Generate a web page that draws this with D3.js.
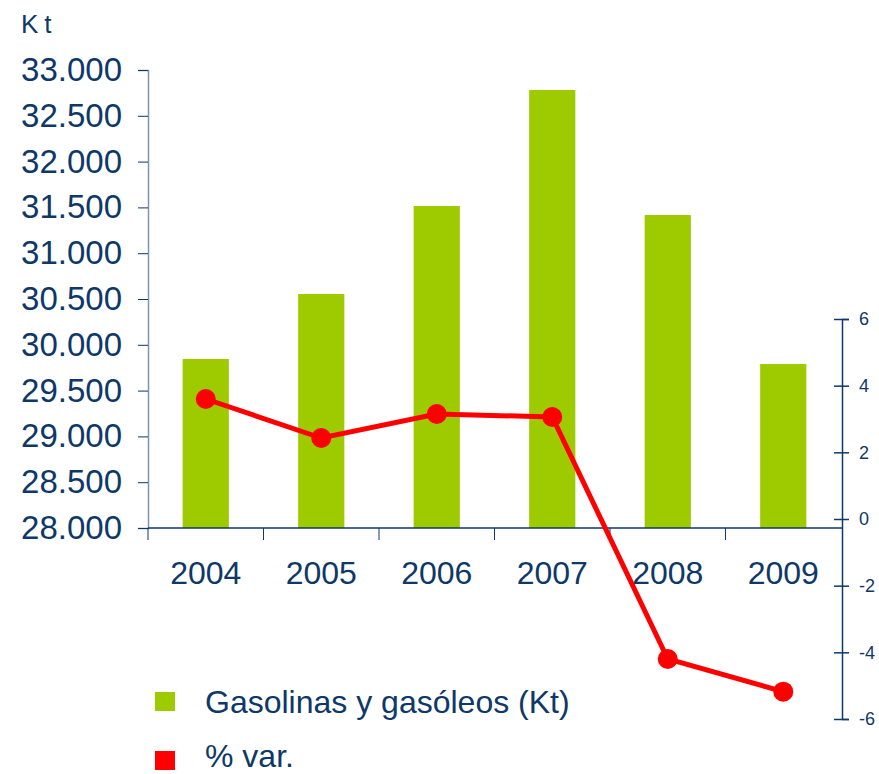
<!DOCTYPE html>
<html>
<head>
<meta charset="utf-8">
<script src="https://cdn.jsdelivr.net/npm/d3@7"></script>
<style>
  body { margin: 0; background: #fff; }
  svg { display: block; font-family: 'Liberation Sans', Arial, sans-serif; }
</style>
</head>
<body>
<svg id="chart" width="879" height="774"></svg>
<script>
var years = ['2004', '2005', '2006', '2007', '2008', '2009'];
var kt = [29845, 30555, 31515, 32782, 31417, 29790];
var pctVar = [3.6, 2.43, 3.15, 3.06, -4.2, -5.18];
var ktTicks = [28000, 28500, 29000, 29500, 30000, 30500, 31000, 31500, 32000, 32500, 33000];
var pctTicks = [-6, -4, -2, 0, 2, 4, 6];

var navy = '#0d3868';
var green = '#9ecb00';
var red = '#ff0000';

var svg = d3.select('#chart');

var x = d3.scaleBand()
    .domain(years)
    .range([148, 841]);

var y = d3.scaleLinear()
    .domain([28000, 33000])
    .range([528, 70]);

var y2 = d3.scaleLinear()
    .domain([-6, 6])
    .range([719, 319]);

var fmt = function(d) {
    return d3.format(',')(d).replace(/,/g, '.');
};

// Bars.
svg.append('g').selectAll('rect')
    .data(years)
    .enter().append('rect')
    .attr('x', function(d) { return x(d) + x.bandwidth() * 0.3; })
    .attr('width', x.bandwidth() * 0.4)
    .attr('y', function(d, i) { return y(kt[i]); })
    .attr('height', function(d, i) { return y(28000) - y(kt[i]); })
    .attr('fill', green);

// Left axis.
var left = svg.append('g')
    .attr('transform', 'translate(148,0)')
    .call(d3.axisLeft(y).tickValues(ktTicks).tickFormat(fmt).tickSizeOuter(0).tickSize(10).tickPadding(16));
left.select('.domain').attr('stroke', '#7f93ab').attr('stroke-width', 1.5);
left.selectAll('.tick line').attr('stroke', navy);
left.selectAll('.tick text')
    .attr('fill', navy)
    .attr('font-size', 33)
    .attr('font-family', 'Liberation Sans, Arial, sans-serif');

// X axis.
var bottom = svg.append('g')
    .attr('transform', 'translate(0,528)');
bottom.append('line')
    .attr('x1', 148).attr('x2', 842)
    .attr('stroke', navy).attr('stroke-width', 1.5);
bottom.selectAll('.cat-tick')
    .data(years)
    .enter().append('line')
    .attr('class', 'cat-tick')
    .attr('x1', function(d) { return x(d); })
    .attr('x2', function(d) { return x(d); })
    .attr('y1', 0).attr('y2', 12)
    .attr('stroke', navy).attr('stroke-width', 1);
bottom.selectAll('text')
    .data(years)
    .enter().append('text')
    .attr('x', function(d) { return x(d) + x.bandwidth() / 2; })
    .attr('y', 56)
    .attr('text-anchor', 'middle')
    .attr('fill', navy)
    .attr('font-size', 32)
    .text(function(d) { return d; });

// Right axis.
var right = svg.append('g')
    .attr('transform', 'translate(842,0)')
    .call(d3.axisRight(y2).tickValues(pctTicks)
        .tickFormat(function(d) { return String(d); })
        .tickSizeOuter(0).tickSize(7).tickPadding(10));
right.select('.domain').attr('stroke', navy).attr('stroke-width', 1.5);
right.selectAll('.tick line')
    .attr('x1', -8)
    .attr('stroke', navy).attr('stroke-width', 1.5);
right.selectAll('.tick text')
    .attr('fill', navy)
    .attr('font-size', 18)
    .attr('font-family', 'Liberation Sans, Arial, sans-serif');

// % var line.
var line = d3.line()
    .x(function(d, i) { return x(years[i]) + x.bandwidth() / 2; })
    .y(function(d) { return y2(d); });

svg.append('path')
    .datum(pctVar)
    .attr('d', line)
    .attr('fill', 'none')
    .attr('stroke', red)
    .attr('stroke-width', 5);

svg.append('g').selectAll('circle')
    .data(pctVar)
    .enter().append('circle')
    .attr('cx', function(d, i) { return x(years[i]) + x.bandwidth() / 2; })
    .attr('cy', function(d) { return y2(d); })
    .attr('r', 10)
    .attr('fill', red);

// Unit label.
svg.append('text')
    .attr('x', 21)
    .attr('y', 33)
    .attr('fill', navy)
    .attr('font-size', 26)
    .attr('letter-spacing', 6)
    .text('Kt');

// Legend.
var legendItems = [
    { label: 'Gasolinas y gasóleos (Kt)', color: green },
    { label: '% var.', color: red }
];
var legend = svg.append('g');
legend.selectAll('rect')
    .data(legendItems)
    .enter().append('rect')
    .attr('x', 155)
    .attr('y', function(d, i) { return 692 + i * 59; })
    .attr('width', 20)
    .attr('height', 19)
    .attr('fill', function(d) { return d.color; });
legend.selectAll('text')
    .data(legendItems)
    .enter().append('text')
    .attr('x', 205)
    .attr('y', function(d, i) { return 713 + i * 54; })
    .attr('fill', navy)
    .attr('font-size', 32)
    .text(function(d) { return d.label; });
</script>
</body>
</html>
